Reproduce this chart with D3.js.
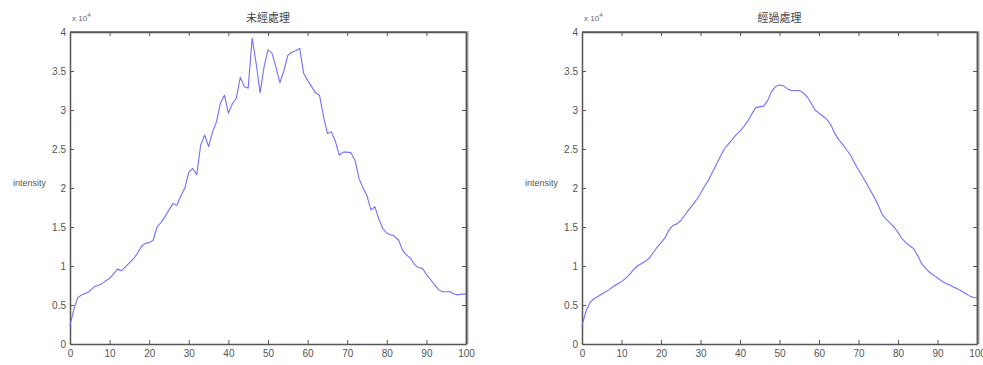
<!DOCTYPE html>
<html>
<head>
<meta charset="utf-8">
<script src="https://cdn.jsdelivr.net/npm/d3@7"></script>
<style>
  html, body { margin: 0; padding: 0; background: #fff; overflow: hidden; }
  text { font-family: "Liberation Sans", "DejaVu Sans", sans-serif; }
</style>
</head>
<body>
<div id="container"></div>
<script>
// values in units of 10^4, sampled at x = 0..100
const xs = d3.range(0, 101);
const rawIntensity = [0.24,0.45,0.6,0.63,0.65,0.68,0.73,0.75,0.77,0.81,
  0.84,0.9,0.96,0.94,0.99,1.04,1.09,1.16,1.25,1.29,
  1.3,1.33,1.5,1.56,1.63,1.72,1.8,1.78,1.9,2.0,
  2.2,2.25,2.17,2.55,2.68,2.53,2.72,2.85,3.09,3.19,
  2.96,3.08,3.15,3.42,3.3,3.28,3.92,3.6,3.22,3.55,
  3.77,3.73,3.55,3.35,3.5,3.7,3.74,3.76,3.79,3.47,
  3.38,3.3,3.22,3.19,2.92,2.7,2.72,2.6,2.42,2.46,
  2.46,2.45,2.35,2.12,2.0,1.9,1.72,1.76,1.6,1.48,
  1.42,1.4,1.38,1.33,1.2,1.14,1.1,1.02,0.98,0.97,
  0.89,0.83,0.76,0.7,0.67,0.67,0.67,0.64,0.63,0.64,0.64];
const smoothIntensity = [0.24,0.42,0.53,0.58,0.61,0.64,0.67,0.7,0.74,0.77,
  0.8,0.84,0.89,0.95,1.0,1.03,1.06,1.1,1.17,1.24,
  1.3,1.36,1.46,1.52,1.54,1.58,1.65,1.72,1.78,1.85,
  1.93,2.02,2.1,2.2,2.3,2.4,2.5,2.56,2.62,2.68,
  2.73,2.79,2.86,2.95,3.03,3.04,3.05,3.12,3.24,3.3,
  3.32,3.31,3.27,3.25,3.25,3.25,3.22,3.17,3.09,3.0,
  2.96,2.92,2.88,2.81,2.7,2.62,2.56,2.49,2.42,2.32,
  2.23,2.15,2.06,1.97,1.88,1.78,1.66,1.6,1.55,1.5,
  1.43,1.35,1.3,1.26,1.22,1.13,1.03,0.97,0.92,0.88,
  0.85,0.81,0.78,0.76,0.73,0.71,0.68,0.65,0.62,0.6,0.59];
const xTicks = d3.range(0, 101, 10);
const yTicks = [0, 0.5, 1, 1.5, 2, 2.5, 3, 3.5, 4];
const titles = ["未經處理", "經過處理"];
const yLabel = "intensity";

const width = 983, height = 365;
const svg = d3.select("#container")
  .append("svg")
    .attr("width", width)
    .attr("height", height);

const panels = [
  { left: 70, right: 466, data: rawIntensity, title: titles[0] },
  { left: 582, right: 977, data: smoothIntensity, title: titles[1] }
];
const plotTop = 32, plotBottom = 344;
const axisColor = "#555";

panels.forEach(p => {
  const x = d3.scaleLinear().domain([0, 100]).range([p.left, p.right]);
  const y = d3.scaleLinear().domain([0, 4]).range([plotBottom, plotTop]);
  const g = svg.append("g");

  // box: top and right edges look heavier/lighter in the reference
  g.append("line").attr("x1", p.left).attr("x2", p.right + 1).attr("y1", plotTop).attr("y2", plotTop)
    .attr("stroke", "#888").attr("stroke-width", 2);
  g.append("line").attr("x1", p.right + 1).attr("x2", p.right + 1).attr("y1", plotTop - 1).attr("y2", plotBottom)
    .attr("stroke", "#aaa").attr("stroke-width", 3);

  g.append("g").attr("transform", `translate(0,${plotBottom})`)
    .call(d3.axisBottom(x).tickValues(xTicks).tickSizeInner(-4).tickSizeOuter(0).tickPadding(6));
  g.append("g").attr("transform", `translate(${p.left},0)`)
    .call(d3.axisLeft(y).tickValues(yTicks).tickSizeInner(-4).tickSizeOuter(0).tickPadding(4)
      .tickFormat(d3.format("~g")));
  // ticks along top and right
  g.append("g").attr("transform", `translate(0,${plotTop})`)
    .call(d3.axisTop(x).tickValues(xTicks).tickSizeInner(-4).tickSizeOuter(0).tickFormat(""));
  g.append("g").attr("transform", `translate(${p.right},0)`)
    .call(d3.axisRight(y).tickValues(yTicks).tickSizeInner(-4).tickSizeOuter(0).tickFormat(""));

  g.selectAll(".domain").attr("stroke", axisColor).attr("stroke-width", 1.5);
  g.selectAll(".tick line").attr("stroke", axisColor);
  g.selectAll(".tick text").attr("fill", "#555").style("font-size", "10px");

  // data line
  const line = d3.line().x((d, i) => x(xs[i])).y(d => y(d));
  g.append("path").datum(p.data)
    .attr("fill", "none")
    .attr("stroke", "#7070ff")
    .attr("stroke-width", 1.1)
    .attr("stroke-linejoin", "round")
    .attr("d", line);

  // exponent label
  const ex = g.append("text").attr("x", p.left + 2).attr("y", 21)
    .attr("fill", "#666").style("font-size", "8px");
  ex.append("tspan").text("x 10");
  ex.append("tspan").attr("dy", -4).style("font-size", "6px").text("4");

  // title
  g.append("text").attr("x", (p.left + p.right) / 2).attr("y", 22)
    .attr("text-anchor", "middle").attr("fill", "#444")
    .style("font-family", "'Noto Sans CJK TC', sans-serif").style("font-size", "11px")
    .text(p.title);

  // y label
  g.append("text").attr("x", p.left - 24).attr("y", 186)
    .attr("text-anchor", "end").attr("fill", "#555").style("font-size", "9px")
    .text(yLabel);
});
</script>
</body>
</html>
